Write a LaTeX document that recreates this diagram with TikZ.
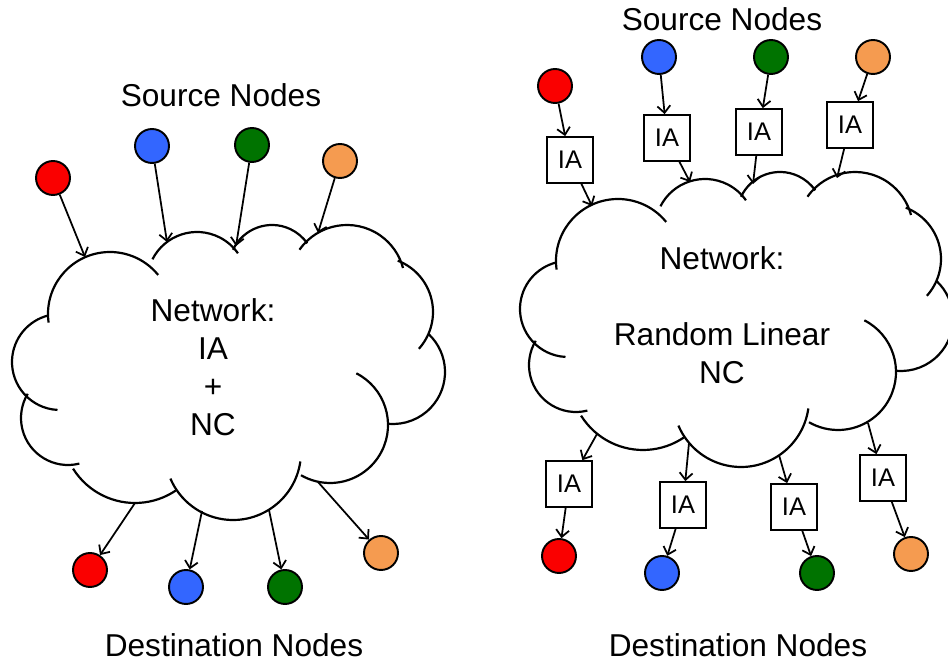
\documentclass[tikz,border=0pt]{standalone}
\usepackage{fontspec}
\setmainfont{Liberation Sans}
\usetikzlibrary{arrows.meta}
\definecolor{cred}{RGB}{250,0,0}
\definecolor{cblue}{RGB}{51,102,255}
\definecolor{cgreen}{RGB}{0,115,0}
\definecolor{corange}{RGB}{245,155,80}
% cloud drawn bump by bump: centre x/centre y/radius/start/end
\newcommand{\netcloud}{%
\foreach \cx/\cy/\r/\a/\b in {110/314/62/-188/-39, 197/282/50/-153/-35,
  272/268/43/-155/-35, 347/283/58/-145/-15, 378/312/55/-69/42,
  393/372/52/-47/95, 330/425/58/-63/120, 233/452/68/8/157,
  135/430/73/56/148, 68/418/47/76/211, 60/362/48/93/256}
  \draw[cl] (\cx,\cy) ++(\a:\r) arc[start angle=\a, end angle=\b, radius=\r];
}
\begin{document}
\begin{tikzpicture}[x=0.02cm,y=-0.02cm]
\tikzstyle{vx} = [circle,draw=black,line width=1.1pt,minimum size=0.68cm,inner sep=0pt] %vertex
\tikzstyle{ia} = [rectangle,draw=black,line width=1pt,minimum size=0.92cm,inner sep=0pt,font=\fontsize{14.5}{17}\selectfont] %IA box
\tikzstyle{de} = [-{Straight Barb[length=1.4mm,width=2.6mm]},line width=1pt] %directed edge
\tikzstyle{cl} = [line width=1.25pt] %cloud line
\tikzstyle{lb} = [font=\fontsize{18}{21.6}\selectfont,align=center] %label
\useasboundingbox (0,0) rectangle (948,661);
% left: IA + NC inside the network
\netcloud
\node[lb](lnet)at(213,367){Network:\\IA\\+\\NC};
\node[lb](lsrc)at(221,95){Source Nodes};
\node[lb](ldst)at(234,645){Destination Nodes};
\node[vx,fill=cred](ls1)at(53,178){};
\node[vx,fill=cblue](ls2)at(152,146){};
\node[vx,fill=cgreen](ls3)at(252,145){};
\node[vx,fill=corange](ls4)at(340,161){};
\coordinate(li1)at(85,257);
\coordinate(li2)at(167,242);
\coordinate(li3)at(236,246);
\coordinate(li4)at(318,233);
\draw[de](ls1)--(li1);
\draw[de](ls2)--(li2);
\draw[de](ls3)--(li3);
\draw[de](ls4)--(li4);
\coordinate(lo1)at(135,503);
\coordinate(lo2)at(202,511);
\coordinate(lo3)at(269,510);
\coordinate(lo4)at(318,482);
\node[vx,fill=cred](ld1)at(90,570){};
\node[vx,fill=cblue](ld2)at(186,587){};
\node[vx,fill=cgreen](ld3)at(285,587){};
\node[vx,fill=corange](ld4)at(381,553){};
\draw[de](lo1)--(ld1);
\draw[de](lo2)--(ld2);
\draw[de](lo3)--(ld3);
\draw[de](lo4)--(ld4);
% right: IA at the edges, random linear NC inside
\begin{scope}[shift={(508,-53)}]
\netcloud
\end{scope}
\node[lb](rnet)at(722,315){Network:\\[21.6pt]Random Linear\\NC};
\node[lb](rsrc)at(722,19){Source Nodes};
\node[lb](rdst)at(738,645){Destination Nodes};
\node[vx,fill=cred](rs1)at(555,86){};
\node[vx,fill=cblue](rs2)at(659,57){};
\node[vx,fill=cgreen](rs3)at(771,57){};
\node[vx,fill=corange](rs4)at(873,57){};
\node[ia](ri1)at(570,160){IA};
\node[ia](ri2)at(667,138){IA};
\node[ia](ri3)at(759,132){IA};
\node[ia](ri4)at(850,125){IA};
\coordinate(rc1)at(592,206);
\coordinate(rc2)at(690,182);
\coordinate(rc3)at(753,184);
\coordinate(rc4)at(837,178);
\draw[de](rs1)--(ri1);
\draw[de](rs2)--(ri2);
\draw[de](rs3)--(ri3);
\draw[de](rs4)--(ri4);
\draw[de](ri1)--(rc1);
\draw[de](ri2)--(rc2);
\draw[de](ri3)--(rc3);
\draw[de](ri4)--(rc4);
\coordinate(ro1)at(597,434);
\coordinate(ro2)at(689,443);
\coordinate(ro3)at(779,455);
\coordinate(ro4)at(868,423);
\node[ia](ri5)at(569,484){IA};
\node[ia](ri6)at(683,505){IA};
\node[ia](ri7)at(794,507){IA};
\node[ia](ri8)at(883,478){IA};
\node[vx,fill=cred](rd1)at(559,556){};
\node[vx,fill=cblue](rd2)at(662,573){};
\node[vx,fill=cgreen](rd3)at(817,573){};
\node[vx,fill=corange](rd4)at(911,554){};
\draw[de](ro1)--(ri5);
\draw[de](ro2)--(ri6);
\draw[de](ro3)--(ri7);
\draw[de](ro4)--(ri8);
\draw[de](ri5)--(rd1);
\draw[de](ri6)--(rd2);
\draw[de](ri7)--(rd3);
\draw[de](ri8)--(rd4);
\end{tikzpicture}
\end{document}
